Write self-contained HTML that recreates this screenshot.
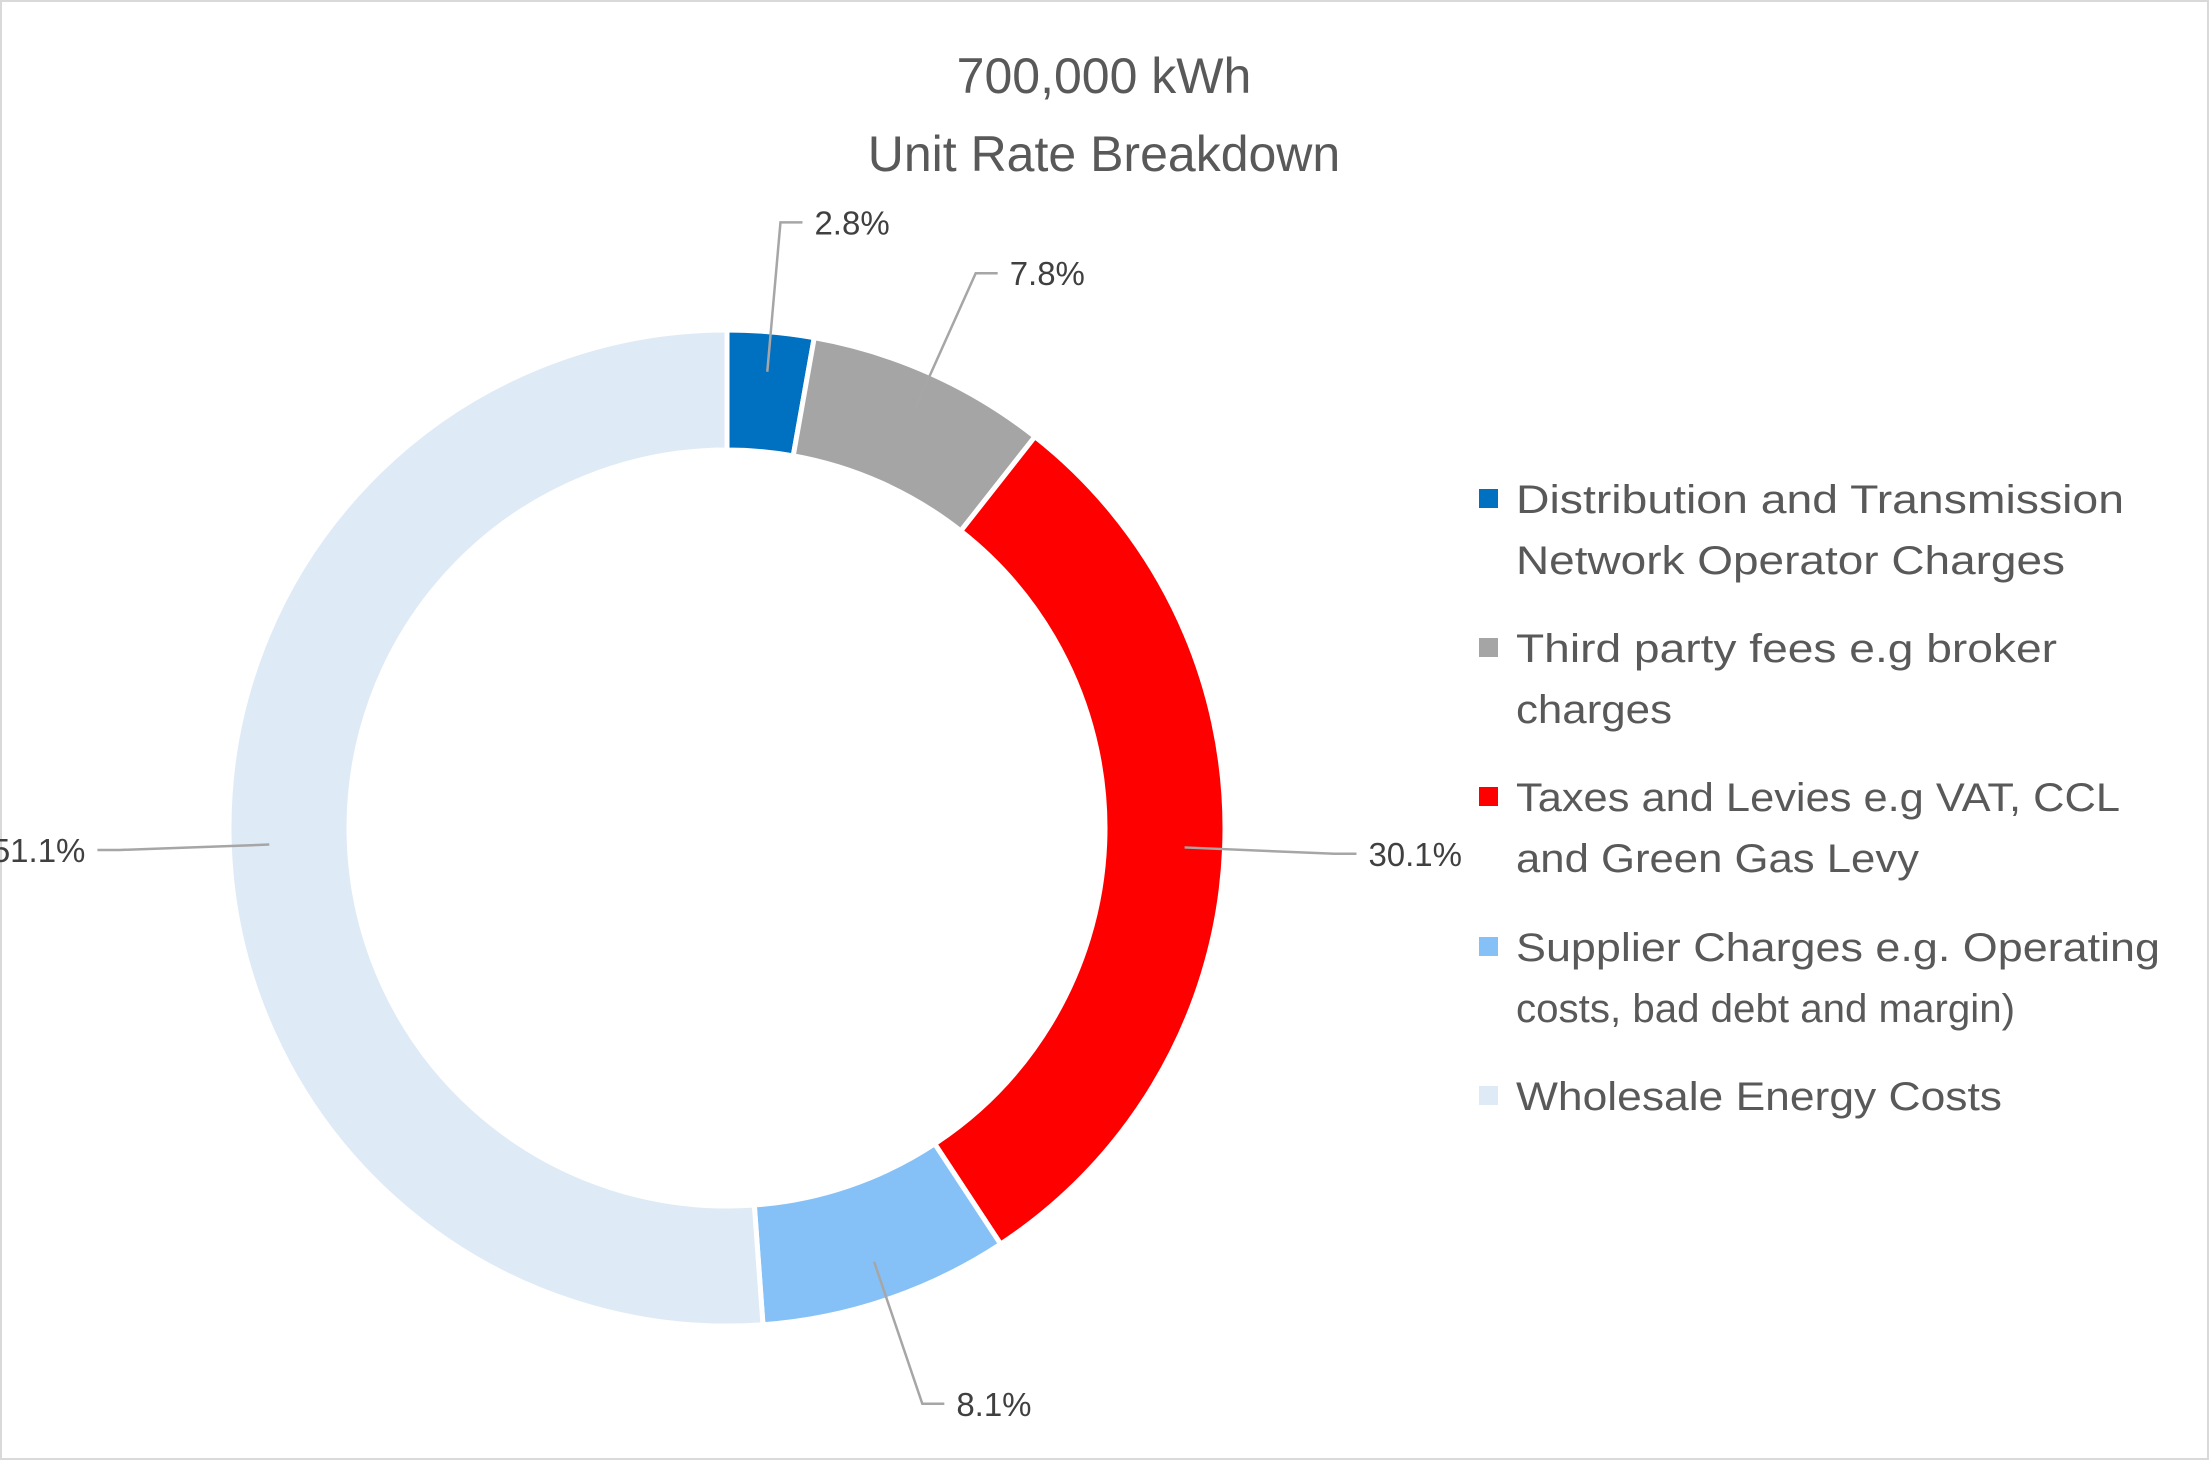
<!DOCTYPE html>
<html><head><meta charset="utf-8"><style>
html,body{margin:0;padding:0;background:#fff}
svg{display:block;font-family:"Liberation Sans",sans-serif}
</style></head><body>
<svg id="chart" width="2209" height="1460" viewBox="0 0 2209 1460">
<rect x="1" y="1" width="2207" height="1458" fill="#fff" stroke="#d9d9d9" stroke-width="2"/>
<text x="1104" y="93" text-anchor="middle" font-size="50" fill="#595959">700,000 kWh</text>
<text x="1104" y="171" text-anchor="middle" font-size="50" fill="#595959">Unit Rate Breakdown</text>
<g id="slices"></g><g id="labels"></g><g id="legend"></g>
</svg>
<script>
const categories=["Distribution and Transmission Network Operator Charges","Third party fees e.g broker charges","Taxes and Levies e.g VAT, CCL and Green Gas Levy","Supplier Charges e.g. Operating costs, bad debt and margin)","Wholesale Energy Costs"];
const values=[2.8,7.8,30.1,8.1,51.1];
const valueLabels=["2.8%","7.8%","30.1%","8.1%","51.1%"];
const colors=["#0070c0","#a5a5a5","#ff0000","#85c1f7","#deeaf6"];
const legendLines=[["Distribution and Transmission","Network Operator Charges"],["Third party fees e.g broker","charges"],["Taxes and Levies e.g VAT, CCL","and Green Gas Levy"],["Supplier Charges e.g. Operating","costs, bad debt and margin)"],["Wholesale Energy Costs"]];
const NS="http://www.w3.org/2000/svg";
const cx=727,cy=828,R=498,r=378;
const total=values.reduce((a,b)=>a+b,0);
function pt(a,rad){return [cx+rad*Math.sin(a),cy-rad*Math.cos(a)];}
const sg=document.getElementById('slices'),lg=document.getElementById('labels'),leg=document.getElementById('legend');
let acc=0;
// label offsets (text anchor position relative to computed mid-point)
const labelAnchor=[["end",-50,-85],["start",230,-60],["start",1264-1020,0],["start",0,0],["end",0,0]];
values.forEach((v,i)=>{
  const a0=acc/total*2*Math.PI;acc+=v;const a1=acc/total*2*Math.PI;
  const large=(a1-a0)>Math.PI?1:0;
  const p0=pt(a0,R),p1=pt(a1,R),q1=pt(a1,r),q0=pt(a0,r);
  const p=document.createElementNS(NS,'path');
  p.setAttribute('d',`M${p0[0]},${p0[1]} A${R},${R} 0 ${large} 1 ${p1[0]},${p1[1]} L${q1[0]},${q1[1]} A${r},${r} 0 ${large} 0 ${q0[0]},${q0[1]} Z`);
  p.setAttribute('fill',colors[i]);p.setAttribute('stroke','#fff');p.setAttribute('stroke-width','5');
  
  
  sg.appendChild(p);
  // leader + label
  const am=(a0+a1)/2;
  const s=pt(am,(R+r)/2+20);
  const e=pt(am,R+110);
  const right=Math.sin(am)>=0;
  const hx=e[0]+(right?22:-22);
  const ln=document.createElementNS(NS,'polyline');
  ln.setAttribute('points',`${s[0]},${s[1]} ${e[0]},${e[1]} ${hx},${e[1]}`);
  ln.setAttribute('fill','none');ln.setAttribute('stroke','#a6a6a6');ln.setAttribute('stroke-width','2.5');
  
  
  lg.appendChild(ln);
  const t=document.createElementNS(NS,'text');
  t.setAttribute('x',hx+(right?12:-12));t.setAttribute('y',e[1]+12);
  t.setAttribute('text-anchor',right?'start':'end');
  t.setAttribute('font-size','33');t.setAttribute('fill','#404040');
  t.textContent=valueLabels[i];
  
  
  lg.appendChild(t);
});
const lineW={"Distribution and Transmission":608,"Network Operator Charges":549,"Third party fees e.g broker":541,"charges":156,"Taxes and Levies e.g VAT, CCL":604,"and Green Gas Levy":403,"Supplier Charges e.g. Operating":644,"costs, bad debt and margin)":499,"Wholesale Energy Costs":486};
const entryY=[499,648,797,947,1096];
categories.forEach((c,i)=>{
  const g=document.createElementNS(NS,'g');
  
  
  const sq=document.createElementNS(NS,'rect');
  sq.setAttribute('x',1479);sq.setAttribute('y',entryY[i]-10);sq.setAttribute('width',19);sq.setAttribute('height',19);
  sq.setAttribute('fill',colors[i]);
  
  
  g.appendChild(sq);
  legendLines[i].forEach((l,j)=>{
    const t=document.createElementNS(NS,'text');
    t.setAttribute('x',1516);t.setAttribute('y',entryY[i]+14+j*61);
    t.setAttribute('font-size','40');t.setAttribute('fill','#595959');
    t.setAttribute('textLength',lineW[l]);t.setAttribute('lengthAdjust','spacingAndGlyphs');
    t.textContent=l;
    
    
    g.appendChild(t);
  });
  leg.appendChild(g);
});
</script>
</body></html>
